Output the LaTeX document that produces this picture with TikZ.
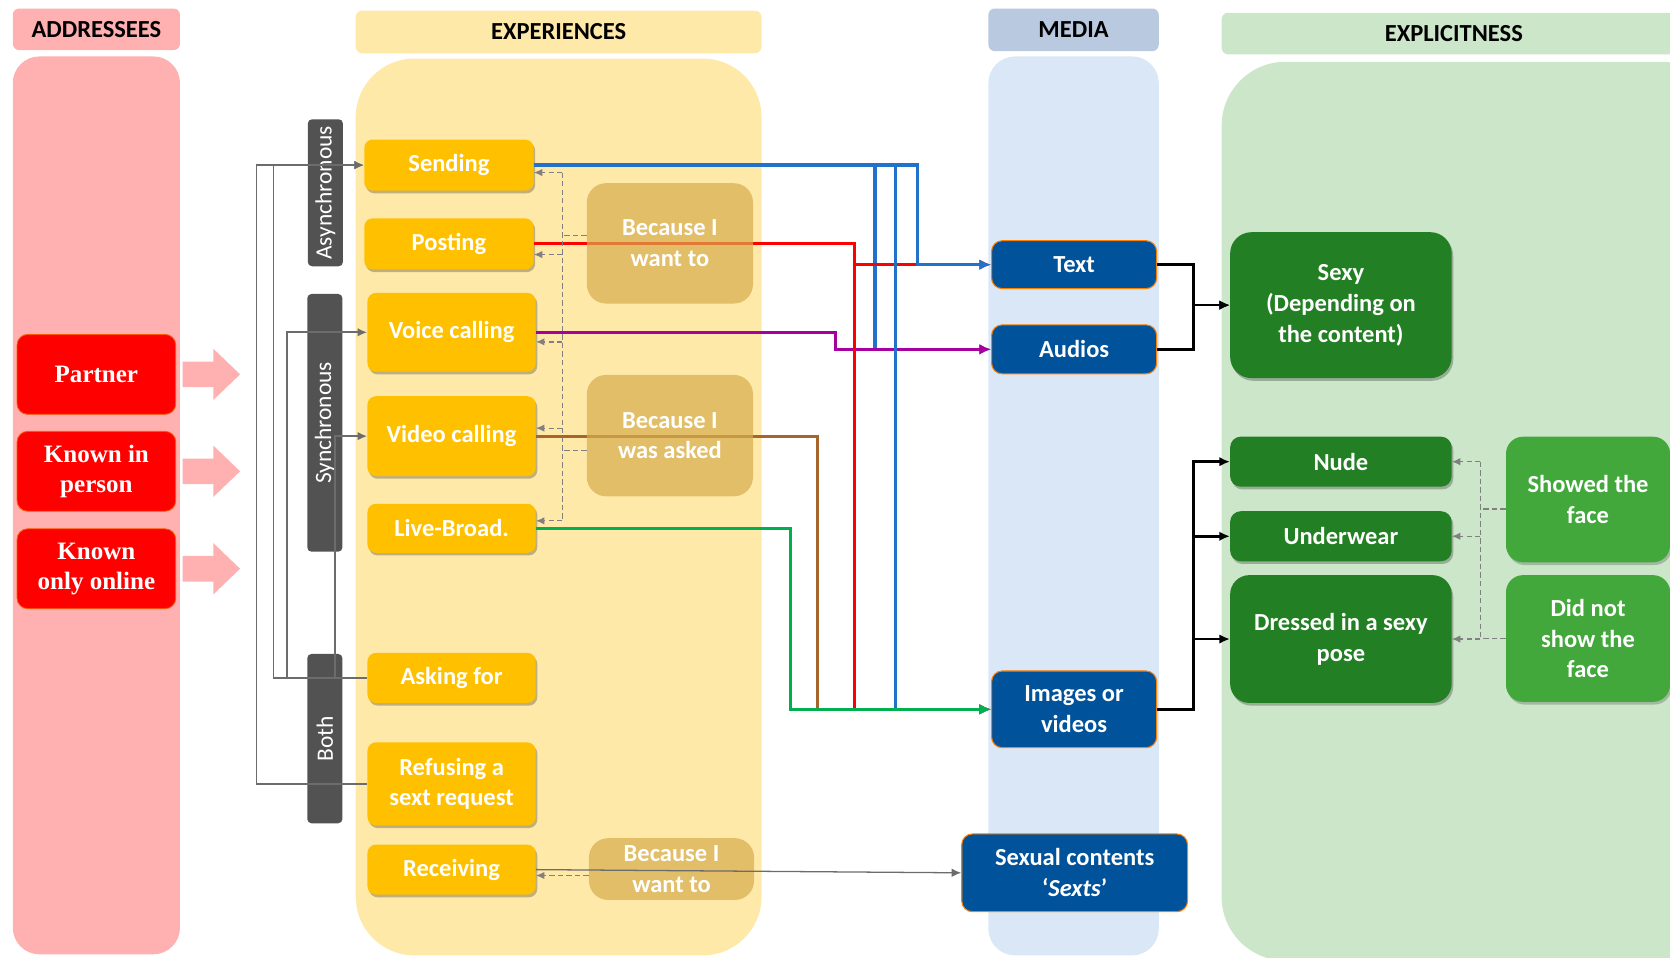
\documentclass[tikz,border=0pt]{standalone}
\usepackage{fontspec}
\setmainfont{Carlito}
\newfontfamily\timesfont{Liberation Serif}
\usepackage{tikz}
\usetikzlibrary{arrows.meta,shadows}

\definecolor{addrpink}{HTML}{FFB0B0}
\definecolor{exppale}{HTML}{FFE9A9}
\definecolor{mediahead}{HTML}{B9C9E0}
\definecolor{mediapale}{HTML}{DAE7F6}
\definecolor{explpale}{HTML}{CCE6CA}
\definecolor{expyellow}{HTML}{FFC000}
\definecolor{reasontan}{HTML}{D6AD4E}
\definecolor{mediablue}{HTML}{00529B}
\definecolor{darkgreen}{HTML}{237F23}
\definecolor{lightgreen}{HTML}{43A83B}
\definecolor{labelgray}{HTML}{525252}
\definecolor{lineblue}{HTML}{2272CC}
\definecolor{linemagenta}{HTML}{A6009F}
\definecolor{linebrown}{HTML}{A5652D}
\definecolor{linegreen}{HTML}{00B050}

\begin{document}
\begin{tikzpicture}[x=1pt,y=-1pt,
    every node/.style={font=\fontsize{23}{29}\selectfont\bfseries, align=center, inner sep=2pt},
    headbox/.style={rounded corners=6, minimum height=40, text=black},
    addrbox/.style={fill=red, draw=orange!70!red, line width=0.8, rounded corners=10, minimum width=149, minimum height=75, text=white, font=\timesfont\bfseries\fontsize{23.5}{28}\selectfont},
    sidelabel/.style={fill=labelgray, text=white, rounded corners=4, rotate=90, minimum height=33, font=\fontsize{22}{26}\selectfont},
    expbox/.style={fill=expyellow, text=white, rounded corners=8, minimum width=158, drop shadow={shadow xshift=1.5pt, shadow yshift=-2.5pt, fill=black, opacity=.25}},
    reason/.style={fill=reasontan, fill opacity=.7, text opacity=1, text=white, rounded corners=18, minimum width=156},
    mediabox/.style={fill=mediablue, draw=orange, line width=1, text=white, rounded corners=10, minimum width=155},
    explbox/.style={fill=darkgreen, text=white, rounded corners=10, minimum width=208, drop shadow={shadow xshift=1.5pt, shadow yshift=-2.5pt, fill=black, opacity=.25}},
    facebox/.style={fill=lightgreen, text=white, rounded corners=16, minimum width=154, drop shadow={shadow xshift=1.5pt, shadow yshift=-2.5pt, fill=black, opacity=.2}},
    feed/.style={draw=gray!85!black, line width=1.8, -{Latex[length=9pt,width=8pt]}},
    dashlink/.style={draw=gray, line width=1.2, dash pattern=on 5pt off 3pt},
    route/.style={line width=3, -{Latex[length=11pt,width=10pt]}},
    link/.style={draw=black, line width=2.4, -{Latex[length=10pt,width=9pt]}}]

  \clip (0,0) rectangle (1568,899);

  % column backgrounds
  \fill[addrpink, rounded corners=25] (12,53) rectangle (169,896);
  \fill[exppale, rounded corners=55] (334,55) rectangle (715,897);
  \fill[mediapale, rounded corners=25] (928,53) rectangle (1088,897);
  \fill[explpale, rounded corners=60] (1147,58) rectangle (1620,902);

  \node[headbox, fill=addrpink, minimum width=157, minimum height=39] (addrhead) at (90.5,27.5) {ADDRESSEES};
  \node[headbox, fill=exppale, minimum width=381] (exphead) at (524.5,30) {EXPERIENCES};
  \node[headbox, fill=mediahead, minimum width=160] (mediahead) at (1008,28) {MEDIA};
  \node[headbox, fill=explpale, minimum width=436, minimum height=39] (explhead) at (1365,31.5) {EXPLICITNESS};

  % addressees
  \node[addrbox] (partner) at (90.5,351.5) {Partner};
  \node[addrbox] (inperson) at (90.5,442.5) {Known in\\person};
  \node[addrbox] (online) at (90.5,534) {Known\\only online};
  \foreach \n in {partner,inperson,online}
    \fill[addrpink] ([xshift=6pt,yshift=12pt]\n.east) -- ++(29,0) -- ++(0,-12) -- ++(25,24)
      -- ++(-25,24) -- ++(0,-12) -- ++(-29,0) -- cycle;

  % experiences
  \node[sidelabel, minimum width=138] (async) at (305.5,181) {Asynchronous};
  \node[sidelabel, minimum width=242] (sync) at (305,397) {Synchronous};
  \node[sidelabel, minimum width=159] (both) at (305,693.5) {Both};

  \node[expbox, minimum width=159, minimum height=48] (sending) at (421.5,155) {Sending};
  \node[expbox, minimum width=159, minimum height=48] (posting) at (421.5,229) {Posting};
  \node[expbox, minimum height=74] (voice) at (424,312) {Voice calling};
  \node[expbox, minimum height=75] (video) at (424,409.5) {Video calling};
  \node[expbox, minimum height=46] (live) at (424,496) {Live-Broad.};
  \node[expbox, minimum height=47] (asking) at (424,636.5) {Asking for};
  \node[expbox, minimum height=78] (refusing) at (424,736) {Refusing a\\sext request};
  \node[expbox, minimum height=47] (receiving) at (424,816.5) {Receiving};

  \draw[feed] (refusing.west) -- ++(-104,0) |- (sending.west);
  \draw[feed] (asking.west) -- ++(-88,0) |- (sending.west);
  \draw[feed] (asking.west) -- ++(-75,0) |- (voice.west);
  \draw[feed] (asking.west) -- ++(-30,0) |- (video.west);

  % media
  \node[mediabox, minimum height=45] (mtext) at (1008.5,248.5) {Text};
  \node[mediabox, minimum height=46] (maudio) at (1008.5,328) {Audios};
  \node[mediabox, minimum height=72] (mimages) at (1008.5,666) {Images or\\videos};
  \node[mediabox, minimum width=212, minimum height=73] (msexts) at (1009,819.5) {Sexual contents\\‘\textit{Sexts}’};

  % explicitness
  \node[explbox, minimum height=137, rounded corners=20] (sexy) at (1259,286.5) {Sexy\\(Depending on\\the content)};
  \node[explbox, minimum height=47] (nude) at (1259,433.5) {Nude};
  \node[explbox, minimum height=47] (underwear) at (1259,503.5) {Underwear};
  \node[explbox, minimum height=120, rounded corners=18] (dressed) at (1259,600) {Dressed in a sexy\\pose};
  \node[facebox, minimum height=118] (showed) at (1491,469) {Showed the\\face};
  \node[facebox, minimum height=119] (hidden) at (1491,599.5) {Did not\\show the\\face};

  % experiences to media
  \draw[route, lineblue] (sending.east) -| ([xshift=-109pt]maudio.west) -- (maudio.west);
  \draw[route, linemagenta] (voice.east) -| ([xshift=-146pt]maudio.west) -- (maudio.west);
  \draw[route, red] (posting.east) -| ([xshift=-128pt]mtext.west) -- (mtext.west);
  \draw[route, red] (posting.east) -| ([xshift=-128pt]mimages.west) -- (mimages.west);
  \draw[route, lineblue] (sending.east) -| ([xshift=-69pt]mtext.west) -- (mtext.west);
  \draw[route, lineblue] (sending.east) -| ([xshift=-90pt]mimages.west) -- (mimages.west);
  \draw[route, linebrown] (video.east) -| ([xshift=-163pt]mimages.west) -- (mimages.west);
  \draw[route, linegreen] (live.east) -| ([xshift=-188pt]mimages.west) -- (mimages.west);

  % media to explicitness
  \foreach \m in {mtext,maudio}
    \draw[link] (\m.east) -| ([xshift=-34pt]sexy.west) -- (sexy.west);
  \foreach \g in {nude,underwear,dressed}
    \draw[link] (mimages.east) -| ([xshift=-34pt]\g.west) -- (\g.west);

  % reasons
  \node[reason, minimum height=113] (want1) at (629,228.5) {Because I\\want to};
  \node[reason, minimum height=114] (asked) at (629,409) {Because I\\was asked};
  \node[reason, minimum width=155, minimum height=58] (want2) at (630.5,816) {Because I\\want to};

  \coordinate (leftbus) at (528,0);
  \draw[dashlink] ([yshift=7.5pt]want1.west) -- ([yshift=7.5pt]want1.west -| leftbus);
  \draw[dashlink] ([yshift=-14pt]asked.west) -- ([yshift=-14pt]asked.west -| leftbus);
  \draw[dashlink] ([yshift=-7pt]sending.east -| leftbus) -- ([yshift=7pt]live.east -| leftbus);
  \foreach \e/\s in {sending/-7pt,posting/-10pt,voice/-9pt,video/7.5pt,live/7pt}
    \draw[dashlink, -{Latex[length=8pt,width=7pt]}] ([yshift=\s]\e.east -| leftbus) -- ([yshift=\s]\e.east);

  \draw[dashlink, -{Latex[length=8pt,width=7pt]}] ([yshift=-6pt]want2.west) -- ([yshift=-6pt]want2.west -| receiving.east);
  \draw[feed, line width=1.2] (receiving.east) -- (msexts.west);

  \coordinate (rightbus) at (1390,0);
  \draw[dashlink] ([yshift=-9pt]showed.west) -- ([yshift=-9pt]showed.west -| rightbus);
  \draw[dashlink] (hidden.west) -- (hidden.west -| rightbus);
  \draw[dashlink] (nude.east -| rightbus) -- (dressed.east -| rightbus);
  \foreach \g in {nude,underwear,dressed}
    \draw[dashlink, -{Latex[length=8pt,width=7pt]}] (\g.east -| rightbus) -- (\g.east);
\end{tikzpicture}
\end{document}
